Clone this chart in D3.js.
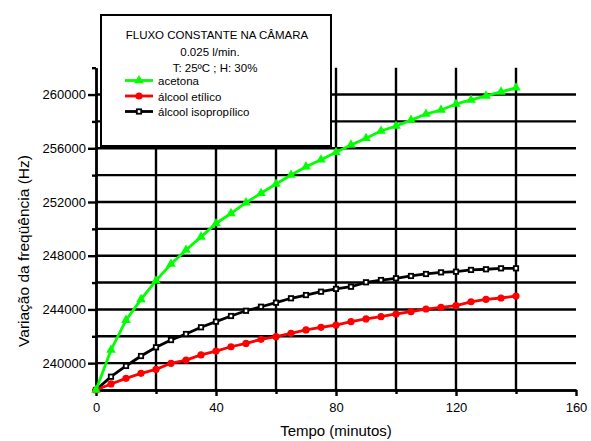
<!DOCTYPE html>
<html lang="pt">
<head>
<meta charset="utf-8">
<script src="https://d3js.org/d3.v7.min.js"></script>
<style>
  body { margin: 0; background: #fff; }
  svg { font-family: "Liberation Sans", Arial, sans-serif; }
  .grid line { stroke: #000; stroke-width: 2.4px; }
  .axis path, .axis line { stroke: #000; stroke-width: 2.4px; }
  .axis text { font-size: 13px; fill: #000; }
  .serie { fill: none; stroke-width: 2.8px; }
  .legenda text { font-size: 11.5px; fill: #000; }
</style>
</head>
<body>
<svg id="chart" width="591" height="441"></svg>
<script>
// tempo em minutos (pontos a cada 5 min)
const tempo = [0, 5, 10, 15, 20, 25, 30, 35, 40, 45, 50, 55, 60, 65, 70, 75, 80, 85, 90, 95, 100, 105, 110, 115, 120, 125, 130, 135, 140];

const acetona = [238000, 240980, 243200, 244750, 246140, 247380, 248420, 249400, 250400, 251150,
                 251950, 252650, 253340, 254010, 254630, 255150, 255700, 256250, 256740, 257290,
                 257660, 258100, 258550, 258850, 259300, 259600, 259900, 260200, 260500];
const etilico = [238000, 238450, 238870, 239240, 239540, 239990, 240230, 240610, 240900, 241220,
                 241470, 241770, 241970, 242220, 242470, 242670, 242840, 243090, 243290, 243460,
                 243660, 243830, 244030, 244160, 244280, 244570, 244750, 244850, 245000];
const isopropilico = [238000, 238990, 239790, 240530, 241180, 241720, 242170, 242670, 243090, 243510,
                      243900, 244200, 244500, 244830, 245070, 245320, 245530, 245690, 246020, 246190,
                      246320, 246490, 246640, 246760, 246810, 246940, 246990, 247060, 247060];

const xMaior = [0, 40, 80, 120, 160];
const xMenor = [20, 60, 100, 140];
const yMaior = [240000, 244000, 248000, 252000, 256000, 260000];
const yMenor = [238000, 242000, 246000, 250000, 254000, 258000, 262000];
const gradeX = [20, 40, 60, 80, 100, 120, 140];
const gradeY = [240000, 242000, 244000, 246000, 248000, 250000, 252000, 254000, 256000, 258000, 260000];

const svg = d3.select("#chart");
const x = d3.scaleLinear().domain([0, 160]).range([96, 576]);
const y = d3.scaleLinear().domain([238000, 262000]).range([390, 67.7]);

// grade
const grade = svg.append("g").attr("class", "grid");
grade.selectAll("line.v").data(gradeX).join("line")
  .attr("class", "v")
  .attr("x1", d => x(d)).attr("x2", d => x(d))
  .attr("y1", y(238000)).attr("y2", y(262000));
grade.selectAll("line.h").data(gradeY).join("line")
  .attr("class", "h")
  .attr("x1", x(0)).attr("x2", x(160))
  .attr("y1", d => y(d)).attr("y2", d => y(d));

// eixos
svg.append("g").attr("class", "axis")
  .attr("transform", `translate(0,${y(238000)})`)
  .call(d3.axisBottom(x).tickValues(xMenor).tickSize(4).tickFormat("").tickSizeOuter(0));
svg.append("g").attr("class", "axis")
  .attr("transform", `translate(0,${y(238000)})`)
  .call(d3.axisBottom(x).tickValues(xMaior).tickSize(6).tickPadding(7).tickSizeOuter(0));
svg.append("g").attr("class", "axis")
  .attr("transform", `translate(${x(0)},0)`)
  .call(d3.axisLeft(y).tickValues(yMenor).tickSize(4).tickFormat("").tickSizeOuter(0));
svg.append("g").attr("class", "axis")
  .attr("transform", `translate(${x(0)},0)`)
  .call(d3.axisLeft(y).tickValues(yMaior).tickSize(8).tickPadding(2).tickFormat(d3.format("d")).tickSizeOuter(0));

// títulos dos eixos
svg.append("text")
  .attr("x", 336).attr("y", 436)
  .attr("text-anchor", "middle")
  .style("font-size", "15px")
  .text("Tempo (minutos)");
svg.append("text")
  .attr("transform", "translate(29,251) rotate(-90)")
  .attr("text-anchor", "middle")
  .style("font-size", "15.5px")
  .text("Variação da freqüência (Hz)");

// séries
const linha = d3.line().x((d, i) => x(tempo[i])).y(d => y(d));
const tri = d3.symbol().type(d3.symbolTriangle).size(40);

svg.append("path").datum(isopropilico).attr("class", "serie")
  .attr("stroke", "#000").attr("d", linha);
svg.selectAll("rect.iso").data(isopropilico).join("rect")
  .attr("class", "iso")
  .attr("x", (d, i) => x(tempo[i]) - 2.2).attr("y", d => y(d) - 2.2)
  .attr("width", 4.4).attr("height", 4.4)
  .attr("fill", "#fff").attr("stroke", "#000").attr("stroke-width", 1.8);

svg.append("path").datum(etilico).attr("class", "serie")
  .attr("stroke", "#ff0000").attr("d", linha);
svg.selectAll("circle.eti").data(etilico).join("circle")
  .attr("class", "eti")
  .attr("cx", (d, i) => x(tempo[i])).attr("cy", d => y(d))
  .attr("r", 3.6).attr("fill", "#ff0000");

svg.append("path").datum(acetona).attr("class", "serie")
  .attr("stroke", "#00ff00").attr("d", linha);
svg.selectAll("path.ace").data(acetona).join("path")
  .attr("class", "ace")
  .attr("transform", (d, i) => `translate(${x(tempo[i])},${y(d)})`)
  .attr("d", tri).attr("fill", "#00ff00");

// legenda
const leg = svg.append("g").attr("class", "legenda");
leg.append("rect")
  .attr("x", 101).attr("y", 15).attr("width", 230).attr("height", 131)
  .attr("fill", "#fff").attr("stroke", "#000").attr("stroke-width", 2);
leg.append("text").attr("x", 217).attr("y", 39).attr("text-anchor", "middle").text("FLUXO CONSTANTE NA CÂMARA");
leg.append("text").attr("x", 210).attr("y", 56).attr("text-anchor", "middle").text("0.025 l/min.");
leg.append("text").attr("x", 215).attr("y", 71.5).attr("text-anchor", "middle").text("T: 25ºC ; H: 30%");

const itens = [
  { nome: "acetona", cor: "#00ff00", simb: "tri" },
  { nome: "álcool etílico", cor: "#ff0000", simb: "circ" },
  { nome: "álcool isopropílico", cor: "#000", simb: "quad" }
];
itens.forEach((it, i) => {
  const cy = 80.5 + i * 15.5;
  leg.append("line").attr("x1", 125).attr("x2", 153).attr("y1", cy).attr("y2", cy)
    .attr("stroke", it.cor).attr("stroke-width", 2.8);
  if (it.simb === "tri") {
    leg.append("path").attr("transform", `translate(139,${cy})`).attr("d", tri).attr("fill", it.cor);
  } else if (it.simb === "circ") {
    leg.append("circle").attr("cx", 139).attr("cy", cy).attr("r", 3.6).attr("fill", it.cor);
  } else {
    leg.append("rect").attr("x", 136.8).attr("y", cy - 2.2).attr("width", 4.4).attr("height", 4.4)
      .attr("fill", "#fff").attr("stroke", "#000").attr("stroke-width", 1.8);
  }
  leg.append("text").attr("x", 158).attr("y", cy + 4.5).text(it.nome);
});
</script>
</body>
</html>
